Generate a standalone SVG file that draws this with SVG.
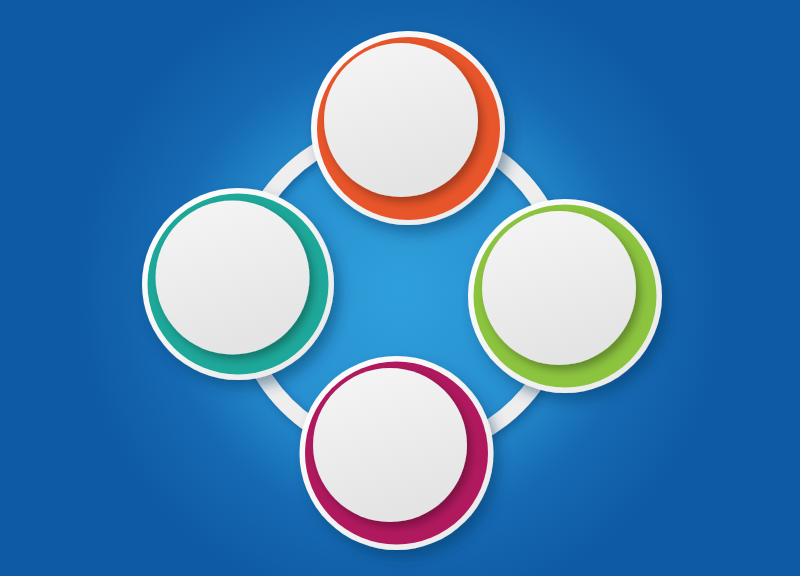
<svg xmlns="http://www.w3.org/2000/svg" width="800" height="576" viewBox="0 0 800 576">
<defs>
<radialGradient id="bg" cx="400" cy="290" r="330" gradientUnits="userSpaceOnUse">
<stop offset="0" stop-color="#2f9fdb"/>
<stop offset="0.45" stop-color="#2790d0"/>
<stop offset="0.72" stop-color="#1569b2"/>
<stop offset="1" stop-color="#0e5aa3"/>
</radialGradient>
<linearGradient id="disk" x1="0" y1="0" x2="0.3" y2="1">
<stop offset="0" stop-color="#f6f6f6"/>
<stop offset="1" stop-color="#e4e4e4"/>
</linearGradient>
<linearGradient id="rim" x1="0" y1="0" x2="1" y2="1">
<stop offset="0" stop-color="#ffffff"/>
<stop offset="1" stop-color="#e8e8e8"/>
</linearGradient>
<filter id="sh" x="-30%" y="-30%" width="160%" height="160%">
<feDropShadow dx="6" dy="8" stdDeviation="7" flood-color="#06305e" flood-opacity="0.45"/>
</filter>
<filter id="ish" x="-30%" y="-30%" width="160%" height="160%">
<feDropShadow dx="4" dy="5" stdDeviation="4" flood-color="#000000" flood-opacity="0.3"/>
</filter>
<filter id="rsh" x="-20%" y="-20%" width="140%" height="140%">
<feDropShadow dx="3" dy="4" stdDeviation="4" flood-color="#06305e" flood-opacity="0.4"/>
</filter>
</defs>
<style>
.rim{fill:url(#rim);filter:url(#sh)}
.disk{fill:url(#disk);filter:url(#ish)}
.ring{fill:none;stroke:#eeeeee;stroke-width:16;filter:url(#rsh)}
</style>
<rect width="800" height="576" fill="url(#bg)"/>
<g id="connectors">
<circle class="ring" cx="402" cy="290" r="163"/>
</g>
<g id="node-top">
<circle class="rim" cx="408" cy="128" r="97"/>
<circle cx="408.5" cy="128.5" r="91.5" fill="#e8552a"/>
<circle class="disk" cx="401" cy="120" r="77"/>
</g>
<g id="node-left">
<circle class="rim" cx="238" cy="284" r="96"/>
<circle cx="238" cy="284" r="90.5" fill="#1ea89a"/>
<circle class="disk" cx="232.5" cy="277.5" r="77"/>
</g>
<g id="node-right">
<circle class="rim" cx="565" cy="296" r="97"/>
<circle cx="565" cy="296" r="91.5" fill="#8cc43f"/>
<circle class="disk" cx="559" cy="288" r="77"/>
</g>
<g id="node-bottom">
<circle class="rim" cx="396.5" cy="453" r="97"/>
<circle cx="396.5" cy="453" r="91.5" fill="#b0195e"/>
<circle class="disk" cx="390" cy="445" r="77"/>
</g>
</svg>
